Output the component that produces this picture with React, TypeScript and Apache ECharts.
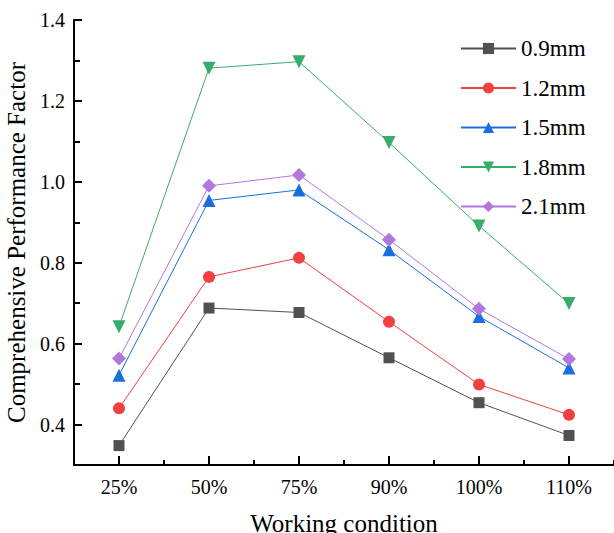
import React, { useEffect, useRef } from "react";
import * as echarts from "echarts";

const categories = ["25%", "50%", "75%", "90%", "100%", "110%"];
const seriesNames = ["0.9mm", "1.2mm", "1.5mm", "1.8mm", "2.1mm"];
const s09 = [0.348, 0.688, 0.677, 0.565, 0.454, 0.373];
const s12 = [0.44, 0.765, 0.812, 0.654, 0.499, 0.424];
const s15 = [0.522, 0.954, 0.98, 0.832, 0.667, 0.54];
const s18 = [0.642, 1.281, 1.297, 1.097, 0.891, 0.699];
const s21 = [0.563, 0.99, 1.017, 0.857, 0.686, 0.562];
const yMajor = [0.4, 0.6, 0.8, 1.0, 1.2, 1.4];
const yMinor = [0.5, 0.7, 0.9, 1.1, 1.3];

const colors = ["#515151", "#F14040", "#1A6FDF", "#37AD6B", "#B177DE"];
const symbols = ["rect", "circle", "triangle", "triangle", "diamond"];
const symbolRotate = [0, 0, 0, 180, 0];
const symbolSizes = [11, 12, 13, 13, 14];

export default function App() {
  const ref = useRef<HTMLDivElement>(null);
  useEffect(() => {
    if (!ref.current) return;
    const chart = echarts.init(ref.current, null, { renderer: "svg" });
    const font = "'Liberation Serif', 'Times New Roman', serif";
    const data = [s09, s12, s15, s18, s21];
    chart.setOption({
      animation: false,
      backgroundColor: "#fff",
      grid: { left: 74, top: 20, right: 0, bottom: 68, outerBoundsMode: "none", containLabel: false },
      legend: {
        orient: "vertical",
        left: 455,
        top: 32,
        itemWidth: 55,
        itemHeight: 14,
        itemGap: 16.5,
        textStyle: { fontFamily: font, fontSize: 23, color: "#000" },
        data: seriesNames,
      },
      xAxis: [
        {
          type: "category",
          data: categories,
          boundaryGap: true,
          name: "Working condition",
          nameLocation: "middle",
          nameGap: 46,
          nameTextStyle: { fontFamily: font, fontSize: 25, color: "#000", verticalAlign: "top" },
          axisLine: { show: true, lineStyle: { color: "#000", width: 2 } },
          axisTick: { show: true, inside: true, alignWithLabel: true, length: 9, lineStyle: { color: "#000", width: 2 } },
          axisLabel: { fontFamily: font, fontSize: 20, color: "#000", margin: 12 },
          splitLine: { show: false },
        },
        {
          type: "category",
          data: categories,
          boundaryGap: true,
          position: "bottom",
          axisLine: { show: false },
          axisTick: { show: true, inside: true, length: 5, lineStyle: { color: "#000", width: 2 } },
          axisLabel: { show: false },
          splitLine: { show: false },
        },
      ],
      yAxis: [
        {
          type: "value",
          min: 0.3,
          max: 1.4,
          interval: 0.1,
          name: "Comprehensive Performance Factor",
          nameLocation: "middle",
          nameGap: 43,
          nameTextStyle: { fontFamily: font, fontSize: 25, color: "#000" },
          axisLine: { show: true, lineStyle: { color: "#000", width: 2 } },
          axisTick: { show: true, inside: true, length: 8, customValues: yMajor, lineStyle: { color: "#000", width: 2 } },
          axisLabel: {
            fontFamily: font,
            fontSize: 20,
            color: "#000",
            margin: 9,
            customValues: yMajor,
            formatter: (v: number) => v.toFixed(1),
          },
          splitLine: { show: false },
        },
        {
          type: "value",
          min: 0.3,
          max: 1.4,
          position: "left",
          axisLine: { show: false },
          axisTick: { show: true, inside: true, length: 6, customValues: yMinor, lineStyle: { color: "#000", width: 2 } },
          axisLabel: { show: false },
          splitLine: { show: false },
        },
      ],
      series: seriesNames.map((name, i) => ({
        name,
        type: "line",
        data: data[i],
        xAxisIndex: 0,
        yAxisIndex: 0,
        symbol: symbols[i],
        symbolRotate: symbolRotate[i],
        symbolSize: symbolSizes[i],
        showAllSymbol: true,
        lineStyle: { color: colors[i], width: 1 },
        itemStyle: { color: colors[i] },
      })),
    });
    return () => chart.dispose();
  }, []);
  return <div ref={ref} style={{ width: 614, height: 533, position: "absolute", left: 0, top: 0 }} />;
}
